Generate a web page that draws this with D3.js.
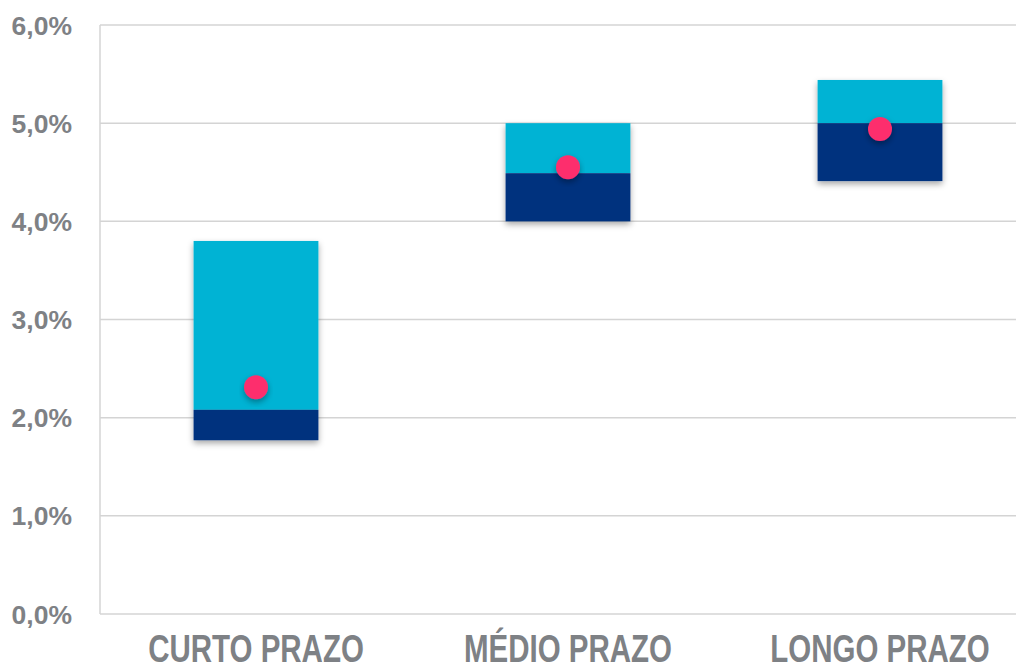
<!DOCTYPE html>
<html>
<head>
<meta charset="utf-8">
<script src="https://cdn.jsdelivr.net/npm/d3@7/dist/d3.min.js"></script>
<style>
  html, body { margin: 0; padding: 0; background: #ffffff; }
  svg { display: block; }
</style>
</head>
<body>
<svg id="chart" width="1016" height="664"></svg>
<script>
// Data
const categories = ["CURTO PRAZO", "MÉDIO PRAZO", "LONGO PRAZO"];
const rangeLow   = [1.77, 4.00, 4.41];   // bottom of dark band (%)
const rangeMid   = [2.08, 4.49, 5.00];   // boundary dark / light (%)
const rangeHigh  = [3.80, 5.00, 5.44];   // top of light band (%)
const pointValue = [2.31, 4.55, 4.94];   // pink marker (%)
const yTicks     = [0, 1, 2, 3, 4, 5, 6];

(function () {
const svg = d3.select("#chart");
const W = 1016;
const plotLeft = 100, plotTop = 25, plotBottom = 614;

const defs = svg.append("defs");
const f = defs.append("filter").attr("id", "shadow")
  .attr("x", "-20%").attr("y", "-20%").attr("width", "140%").attr("height", "150%");
f.append("feDropShadow").attr("dx", 0).attr("dy", 3).attr("stdDeviation", 3)
  .attr("flood-color", "#000").attr("flood-opacity", 0.35);

const x = d3.scaleBand().domain(categories).range([plotLeft, plotLeft + 936])
  .paddingInner(0.6).paddingOuter(0.3);
const y = d3.scaleLinear().domain([0, 6]).range([plotBottom, plotTop]);

const textColor = "#7e8185";
const gridColor = "#d4d4d4";

// gridlines
svg.append("g").selectAll("line").data(yTicks).join("line")
  .attr("x1", plotLeft).attr("x2", W)
  .attr("y1", d => y(d)).attr("y2", d => y(d))
  .attr("stroke", gridColor).attr("stroke-width", 1.5);
// left axis line
svg.append("line").attr("x1", plotLeft).attr("x2", plotLeft)
  .attr("y1", y(6)).attr("y2", y(0))
  .attr("stroke", gridColor).attr("stroke-width", 1.5);

// y labels
const fmt = d => d3.format(".1f")(d).replace(".", ",") + "%";
svg.append("g").selectAll("text").data(yTicks).join("text")
  .attr("x", 72).attr("y", d => y(d) + 9.5)
  .attr("text-anchor", "end")
  .attr("font-family", "'Liberation Sans', Arial, sans-serif")
  .attr("font-weight", "bold").attr("font-size", 26.5)
  .attr("fill", textColor)
  .text(fmt);

// x labels (vertically stretched)
svg.append("g").selectAll("text").data(categories).join("text")
  .attr("transform", d => `translate(${x(d) + x.bandwidth() / 2},661.5) scale(1,1.33)`)
  .attr("text-anchor", "middle")
  .attr("font-family", "'Liberation Sans', Arial, sans-serif")
  .attr("font-weight", "bold").attr("font-size", 29.5)
  .attr("fill", textColor)
  .text(d => d);

const data = categories.map((c, i) => ({
  c, lo: rangeLow[i], mid: rangeMid[i], hi: rangeHigh[i], p: pointValue[i]
}));

// bars with shadow
const bars = svg.append("g").selectAll("g").data(data).join("g")
  .attr("filter", "url(#shadow)");
bars.append("rect")
  .attr("x", d => x(d.c)).attr("width", x.bandwidth())
  .attr("y", d => y(d.hi)).attr("height", d => y(d.mid) - y(d.hi))
  .attr("fill", "#05b3d4");
bars.append("rect")
  .attr("x", d => x(d.c)).attr("width", x.bandwidth())
  .attr("y", d => y(d.mid)).attr("height", d => y(d.lo) - y(d.mid))
  .attr("fill", "#05317e");

// points
svg.append("g").selectAll("circle").data(data).join("circle")
  .attr("cx", d => x(d.c) + x.bandwidth() / 2)
  .attr("cy", d => y(d.p))
  .attr("r", 12)
  .attr("fill", "#fd2f6d")
  .attr("filter", "url(#shadow)");
})();
</script>
</body>
</html>
